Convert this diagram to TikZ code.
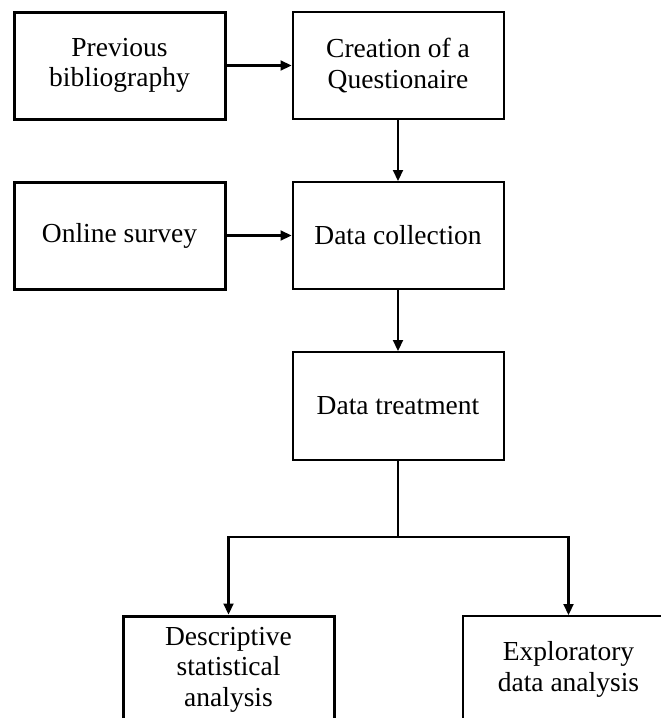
\documentclass[tikz,border=0pt]{standalone}
\usepackage{fontspec}
\setmainfont{Liberation Serif}
\usetikzlibrary{arrows.meta}
\begin{document}
\begin{tikzpicture}[x=1pt,y=-1pt,
  box/.style={draw=black,line width=2pt,minimum width=211pt,minimum height=107pt,
    inner sep=0pt,align=center,font=\fontsize{27.5}{30.5}\selectfont},
  thickbox/.style={box,line width=3pt},
  arr/.style={line width=2.2pt,-{Triangle[length=11pt,width=10pt]}},
  conn/.style={line width=2.2pt}]
\clip (0,0) rectangle (661,718);
\fill[white] (0,0) rectangle (661,718);
\node[thickbox] (b1) at (119.5,65.5) {Previous\\bibliography};
\node[box] (b2) at (398,65.5) {Creation of a\\Questionaire};
\node[thickbox] (b3) at (119.5,235.5) {Online survey};
\node[box] (b4) at (398,235.5) {Data collection};
\node[box,minimum height=108pt] (dt) at (398,406) {Data treatment};
\node[thickbox] (bl) at (228.5,669.5) {Descriptive\\statistical\\analysis};
\node[box] (br) at (568.5,669.5) {Exploratory\\data analysis};
\coordinate (j) at (398,537);
\draw[arr] (b1) -- (b2);
\draw[arr] (b3) -- (b4);
\draw[arr] (b2) -- (b4);
\draw[arr] (b4) -- (dt);
\draw[conn] (dt) -- (j);
\draw[arr] (j) -| (bl);
\draw[arr] (j) -| (br);
\end{tikzpicture}
\end{document}
